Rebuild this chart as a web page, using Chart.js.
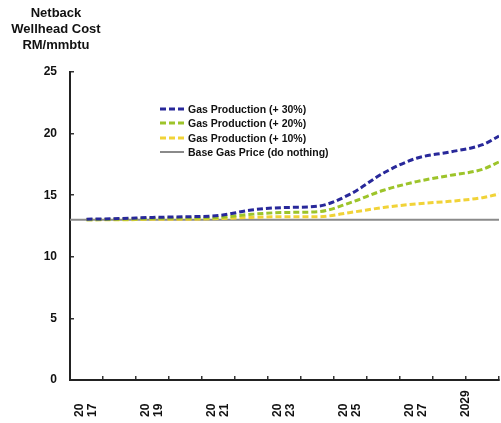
<!DOCTYPE html>
<html><head><meta charset="utf-8">
<script src="https://cdn.jsdelivr.net/npm/chart.js@4.4.1/dist/chart.umd.min.js"></script>
<style>
html,body{margin:0;padding:0;background:#fff;}
#wrap{position:relative;width:501px;height:423px;}
#title{position:absolute;left:0;top:5px;width:112px;text-align:center;font:bold 13px "Liberation Sans",Arial,sans-serif;line-height:16px;color:#111;}
#legend{position:absolute;left:160px;top:102px;font:bold 10.5px "Liberation Sans",Arial,sans-serif;color:#111;}
.item{display:flex;align-items:center;height:14.3px;white-space:nowrap;}
.item svg{margin-right:4px;}
</style></head><body>
<div id="wrap"><canvas id="c" width="501" height="423"></canvas>
<div id="title">Netback<br>Wellhead Cost<br>RM/mmbtu</div>
<div id="legend"></div></div>
<script>
// ---- data ----
const years = [2017,2018,2019,2020,2021,2022,2023,2024,2025,2026,2027,2028,2029];
const endYear = 2029.5;
const gas30 = [13.05,13.1,13.2,13.25,13.35,13.8,14.0,14.1,15.1,16.8,18.0,18.5,19.1,19.8];
const gas20 = [13.0,13.05,13.1,13.15,13.2,13.45,13.6,13.65,14.4,15.4,16.1,16.6,17.1,17.7];
const gas10 = [13.0,13.0,13.05,13.05,13.1,13.2,13.25,13.25,13.6,14.0,14.3,14.5,14.8,15.1];
const basePrice = 13;
const seriesNames = ["Gas Production (+ 30%)","Gas Production (+ 20%)","Gas Production (+ 10%)","Base Gas Price (do nothing)"];
const xTickLabels = [["20","17"],["20","19"],["20","21"],["20","23"],["20","25"],["20","27"],["2029"]];
const xTickYears = [2017,2019,2021,2023,2025,2027,2029];
const yMin = 0, yMax = 25, yStep = 5;

const X_MIN = years[0] - 0.5, X_MAX = endYear;
const xs = years.concat([endYear]);
const toPts = v => v.map((y,i)=>({x: xs[i], y}));

const colors = ['#28289a','#9dc42a','#f1d338','#8a8a8a'];
const FONT = '"Liberation Sans", Arial, sans-serif';

const xLabelPlugin = {
  id: 'xLabels',
  afterDraw(chart) {
    const {ctx} = chart; const x = chart.scales.x;
    ctx.save();
    ctx.font = 'bold 12px ' + FONT;
    ctx.fillStyle = '#111';
    ctx.textAlign = 'left';
    ctx.textBaseline = 'middle';
    const baseY = x.top + 37;
    xTickLabels.forEach((lines, i) => {
      const yr = xTickYears[i];
      const px = x.getPixelForValue(lines.length === 1 ? yr - 0.5 : yr);
      lines.forEach((ln, j) => {
        const off = (j - (lines.length - 1) / 2) * 13;
        ctx.save();
        ctx.translate(px + off, baseY);
        ctx.rotate(-Math.PI / 2);
        ctx.fillText(ln, 0, 0);
        ctx.restore();
      });
    });
    ctx.restore();
  }
};

const dashed = {borderWidth: 3, borderDash: [6,3], pointRadius: 0, cubicInterpolationMode: 'monotone', fill: false};
const chart = new Chart(document.getElementById('c'), {
  type: 'line',
  data: {
    datasets: [
      Object.assign({label: seriesNames[0], data: toPts(gas30), borderColor: colors[0]}, dashed),
      Object.assign({label: seriesNames[1], data: toPts(gas20), borderColor: colors[1]}, dashed),
      Object.assign({label: seriesNames[2], data: toPts(gas10), borderColor: colors[2]}, dashed),
      {label: seriesNames[3], data: [{x: X_MIN, y: basePrice},{x: X_MAX, y: basePrice}], borderColor: colors[3], borderWidth: 2, pointRadius: 0}
    ]
  },
  options: {
    responsive: false, animation: false,
    layout: {padding: {top: 72, right: 2, left: 0, bottom: 0}},
    plugins: {legend: {display: false}, title: {display: false}, tooltip: {enabled: false}},
    scales: {
      x: {
        type: 'linear', min: X_MIN, max: X_MAX,
        afterBuildTicks: s => { s.ticks = []; for (let v = X_MIN; v <= X_MAX + 1e-9; v += 1) s.ticks.push({value: v}); },
        afterFit: s => { s.height = 43; },
        ticks: {display: false},
        grid: {drawOnChartArea: false, drawTicks: true, tickLength: -4, color: '#333', lineWidth: 1.5},
        border: {display: true, color: '#222', width: 2}
      },
      y: {
        min: yMin, max: yMax,
        afterFit: s => { s.width = 70; },
        ticks: {stepSize: yStep, color: '#111', font: {family: FONT, size: 12, weight: 'bold'}, padding: 17},
        grid: {drawOnChartArea: false, drawTicks: true, tickLength: -4, color: '#333', lineWidth: 1.5},
        border: {display: true, color: '#222', width: 2}
      }
    }
  },
  plugins: [xLabelPlugin]
});

// HTML legend built from datasets
const leg = document.getElementById('legend');
chart.data.datasets.forEach(ds => {
  const d = document.createElement('div'); d.className = 'item';
  const dash = ds.borderDash ? 'stroke-dasharray="6 3"' : '';
  d.innerHTML = '<svg width="24" height="6"><line x1="0" y1="3" x2="24" y2="3" stroke="' + ds.borderColor + '" stroke-width="' + ds.borderWidth + '" ' + dash + '/></svg><span>' + ds.label + '</span>';
  leg.appendChild(d);
});
</script>
</body></html>
